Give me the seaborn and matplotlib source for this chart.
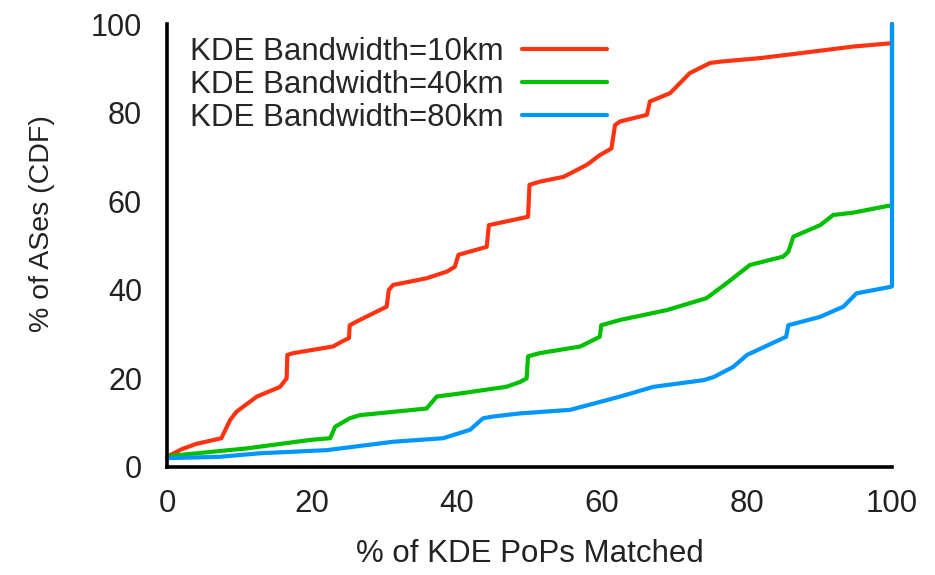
import pandas as pd
import matplotlib
matplotlib.use('Agg')
import matplotlib.pyplot as plt
import seaborn as sns

# CDF curves (x = % of KDE PoPs matched, y = % of ASes)
red_x = [0, 2, 4, 7.5, 8.7, 9.6, 12.4, 15.6, 16.5, 16.6, 17.4, 22.9, 24.1, 25.1,
         25.2, 26.6, 30.3, 30.6, 31.2, 35.8, 38.6, 39.7, 40.2, 44.1, 44.4, 48.7,
         49.8, 50.0, 51.4, 54.7, 57.9, 59.7, 61.3, 61.8, 62.5, 66.2, 66.6, 69.4,
         72.1, 74.9, 76.3, 81.8, 87.3, 94.6, 99.5, 100, 100]
red_y = [2.3, 4.0, 5.2, 6.5, 10.6, 12.5, 15.9, 18.1, 20.0, 25.3, 25.7, 27.2, 28.3, 29.1,
         32.0, 33.2, 36.2, 40.0, 41.1, 42.6, 44.1, 45.2, 47.9, 49.7, 54.6, 56.1,
         56.5, 63.7, 64.4, 65.5, 68.2, 70.4, 71.9, 77.2, 78.0, 79.5, 82.5, 84.4,
         88.9, 91.2, 91.5, 92.3, 93.4, 94.9, 95.6, 95.7, 100]

green_x = [0, 0.4, 11, 19.7, 22.5, 23.2, 25.2, 26.6, 35.8, 37.2, 40.4, 46.8, 48.7,
           49.6, 49.8, 51.4, 57.0, 59.7, 59.9, 62.5, 68.9, 74.4, 77.2, 80.4, 85.0,
           85.7, 86.4, 90.1, 91.9, 94.6, 99.3, 100, 100]
green_y = [2.3, 2.5, 4.2, 6.1, 6.5, 9.1, 11.0, 11.7, 13.2, 15.9, 16.6, 18.1, 19.2,
           20.0, 25.0, 25.7, 27.2, 29.4, 32.0, 33.2, 35.4, 38.1, 41.5, 45.6, 47.5,
           48.6, 52.0, 54.6, 56.9, 57.4, 58.9, 59.0, 100]

blue_x = [0, 7.3, 12.8, 22.0, 31.2, 38.1, 41.8, 43.6, 45.0, 48.7, 55.6, 62.5, 67.1,
          74.0, 75.4, 78.1, 80.0, 85.4, 85.7, 90.1, 93.3, 95.1, 99.9, 100, 100]
blue_y = [2.0, 2.3, 3.1, 3.8, 5.7, 6.5, 8.4, 11.0, 11.4, 12.1, 12.9, 15.9, 18.1,
          19.6, 20.3, 22.6, 25.3, 29.4, 32.0, 33.9, 36.2, 39.2, 40.7, 40.8, 100]

labels = ['KDE Bandwidth=10km', 'KDE Bandwidth=40km', 'KDE Bandwidth=80km']
colors = ['#ff3311', '#00c000', '#0096ff']
x_ticks = [0, 20, 40, 60, 80, 100]
y_ticks = [0, 20, 40, 60, 80, 100]

frames = []
for lab, xs, ys in zip(labels, [red_x, green_x, blue_x], [red_y, green_y, blue_y]):
    frames.append(pd.DataFrame({'x': xs, 'y': ys, 'series': lab}))
df = pd.concat(frames, ignore_index=True)

sns.set_style('white')
plt.rcParams['font.family'] = ['Liberation Sans', 'DejaVu Sans']

fig = plt.figure(figsize=(9.35, 5.75), dpi=100)
ax = fig.add_axes([167 / 935, 1 - 467 / 575, 725 / 935, 443 / 575])

sns.lineplot(data=df, x='x', y='y', hue='series', hue_order=labels,
             palette=dict(zip(labels, colors)), sort=False, estimator=None,
             linewidth=3, ax=ax, clip_on=False)

ax.set_xlim(0, 100)
ax.set_ylim(0, 100)
ax.set_xticks(x_ticks)
ax.set_yticks(y_ticks)
ax.tick_params(axis='both', direction='in', length=8, width=2.2, colors='black')
ax.tick_params(axis='x', labelsize=22.5, pad=16, labelcolor='#222222')
ax.tick_params(axis='y', labelsize=22, pad=18, labelcolor='#222222')
for side in ['top', 'right']:
    ax.spines[side].set_visible(False)
for side in ['left', 'bottom']:
    ax.spines[side].set_linewidth(2.6)
    ax.spines[side].set_color('black')

ax.set_xlabel('% of KDE PoPs Matched', fontsize=22.5, labelpad=14, color='#222222')
ax.set_ylabel('% of ASes (CDF)', fontsize=20.5, color='#222222')
ax.yaxis.set_label_coords(-0.155, 0.549)

ax.legend(loc='center', bbox_to_anchor=(0.319, 0.862), frameon=False,
          markerfirst=False, fontsize=22.5, handlelength=2.7, handletextpad=0.6,
          labelspacing=0.1, borderpad=0)

fig.savefig('out.png', dpi=100)
